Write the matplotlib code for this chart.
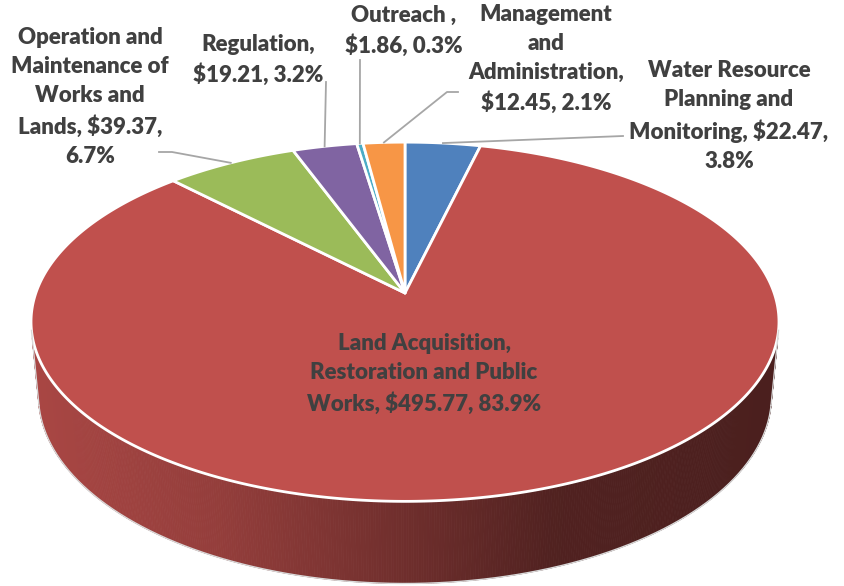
import numpy as np
import matplotlib.pyplot as plt
from matplotlib.patches import Polygon
from matplotlib.colors import to_rgb

# data, in the order Excel draws the slices (clockwise from 12 o'clock)
categories = ['Water Resource Planning and Monitoring',
              'Land Acquisition, Restoration and Public Works',
              'Operation and Maintenance of Works and Lands',
              'Regulation', 'Outreach ', 'Management and Administration']
values = [22.47, 495.77, 39.37, 19.21, 1.86, 12.45]
colors = ['#4F81BD', '#C0504D', '#9BBB59', '#8064A2', '#4BACC6', '#F79646']
# label layout: how each name is wrapped
label_fmt = ['Water Resource\nPlanning and\nMonitoring, {v},\n{p}',
             'Land Acquisition,\nRestoration and Public\nWorks, {v}, {p}',
             'Operation and\nMaintenance of\nWorks and\nLands, {v},\n{p}',
             'Regulation,\n{v}, {p}',
             'Outreach ,\n{v}, {p}',
             'Management\nand\nAdministration,\n{v}, {p}']
label_pos = [(729, 116), (424, 374), (90, 97), (258, 60), (404, 31), (546, 59)]
# leader line elbows (None = label sits on the slice)
leader_pts = [[(623, 136)], None, [(172, 152), (159, 152)], [(326, 82)],
              [(360, 60)], [(447, 92), (458, 92)]]

# fake 3d camera
CX, CY = 405, 293
F, D = 2030.7, 5.501
ELEV = np.radians(28.3)
H = 0.23
ce, se = np.cos(ELEV), np.sin(ELEV)


def proj(x, y, z=0.0):
    d = D + y * ce - z * se
    v = y * se + z * ce
    return CX + F * x / d, CY - F * v / d


def ring(t, z=0.0):
    t = np.radians(t)
    return proj(np.sin(t), np.cos(t), z)


fig = plt.figure(figsize=(8.44, 5.86), dpi=100)
ax = fig.add_axes([0, 0, 1, 1])
ax.set_xlim(0, 844)
ax.set_ylim(586, 0)
ax.axis('off')

total = sum(values)
edges = np.concatenate([[0], np.cumsum(values) / total * 360])

# side wall, only the part facing the camera
t_vis = np.degrees(np.arccos(-1 / (D * ce)))
for i in range(len(values)):
    a0, a1 = max(edges[i], t_vis), min(edges[i + 1], 360 - t_vis)
    if a1 <= a0:
        continue
    ts = np.linspace(a0, a1, int((a1 - a0) * 3) + 2)
    base = np.array(to_rgb(colors[i]))
    for ta, tb in zip(ts[:-1], ts[1:]):
        xa, ya = ring(ta)
        xb, yb = ring(tb)
        xc, yc = ring(tb, -H)
        xd, yd = ring(ta, -H)
        u = ((xa + xb) / 2 - CX) / 374
        k = np.interp(u, [-1, -0.5, 0, 0.4, 1], [0.88, 0.77, 0.58, 0.42, 0.39])
        c = base * k
        ax.add_patch(Polygon([(xa, ya), (xb, yb), (xc, yc), (xd, yd)],
                             closed=True, fc=c, ec=c, lw=0.6))
    tt = np.linspace(a0, a1, 200)
    bx, by = ring(tt, -H)
    ax.plot(bx, by, color='#D9D9D9', lw=1)

for t in (t_vis, 360 - t_vis):
    x0, y0 = ring(t)
    x1, y1 = ring(t, -H)
    ax.plot([x0, x1], [y0, y1], color='#D9D9D9', lw=1)

# top faces
for i in range(len(values)):
    tt = np.linspace(edges[i], edges[i + 1], max(int(edges[i + 1] - edges[i]) * 2, 4))
    px, py = ring(tt)
    pts = [(CX, CY)] + list(zip(px, py))
    ax.add_patch(Polygon(pts, closed=True, fc=colors[i], ec='white', lw=2,
                         joinstyle='round'))

# labels and leader lines
for i in range(len(values)):
    p = values[i] / total * 100
    txt = label_fmt[i].format(v='${:.2f}'.format(values[i]), p='{:.1f}%'.format(p))
    ax.text(label_pos[i][0], label_pos[i][1], txt, ha='center', va='center',
            fontsize=16, fontweight='heavy', family='Lato', color='#404040',
            linespacing=1.47)
    if leader_pts[i] is not None:
        sx, sy = ring((edges[i] + edges[i + 1]) / 2)
        pts = [(sx, sy)] + leader_pts[i]
        ax.plot([q[0] for q in pts], [q[1] for q in pts], color='#A6A6A6', lw=1.3)

fig.savefig('out.png', dpi=100)
